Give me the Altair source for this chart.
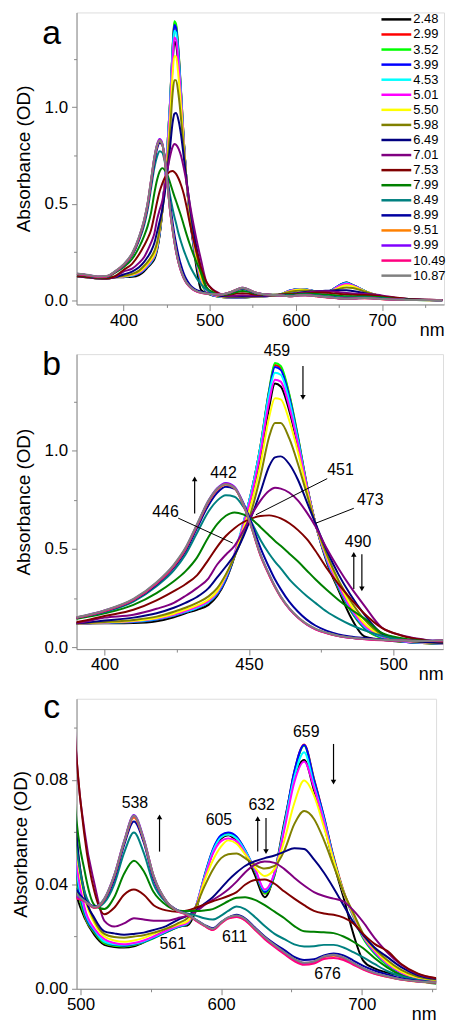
import json
import altair as alt
import pandas as pd

# ---------------- data ----------------
WAVELENGTH = [346, 360, 370, 380, 390, 400, 410, 418, 424, 428, 432, 436, 439, 442, 445,
              448, 451, 454, 457, 459, 461, 464, 467, 470, 473, 477, 481, 485, 490, 496,
              503, 510, 517, 524, 531, 538, 545, 552, 561, 569, 576, 582, 588, 594, 600,
              605, 611, 617, 624, 631, 638, 645, 652, 659, 666, 673, 680, 687, 694, 701,
              709, 718, 728, 740, 755, 770]

PH_LABELS = ["2.48", "2.99", "3.52", "3.99", "4.53", "5.01", "5.50", "5.98", "6.49",
             "7.01", "7.53", "7.99", "8.49", "8.99", "9.51", "9.99", "10.49", "10.87"]
COLORS = ["#000000", "#FF0000", "#00FF00", "#0000FF", "#00FFFF", "#FF00FF", "#FFFF00",
          "#808000", "#000080", "#800080", "#800000", "#008000", "#008080", "#0000A0",
          "#FF8000", "#8000FF", "#FF0080", "#808080"]

# Soret part (346-496 nm) and Q-band part (503-770 nm) of each spectrum
S_248 = [0.125, 0.119, 0.114, 0.112, 0.120, 0.121, 0.123, 0.132, 0.152, 0.172, 0.190, 0.215, 0.260, 0.340, 0.460,
         0.615, 0.770, 0.970, 1.220, 1.340, 1.325, 1.200, 1.020, 0.820, 0.630, 0.430, 0.290, 0.160, 0.055, 0.038]
Q_248 = [0.0270, 0.0205, 0.0168, 0.0160, 0.0158, 0.0163, 0.0178, 0.0198, 0.0225, 0.0238, 0.0242, 0.0300,
         0.0420, 0.0520, 0.0575, 0.0588, 0.0565, 0.0520, 0.0435, 0.0350, 0.0445, 0.0640, 0.0810, 0.0876,
         0.0760, 0.0630, 0.0480, 0.0350, 0.0210, 0.0108, 0.0078, 0.0062, 0.0050, 0.0038, 0.0030, 0.0028]
S_299 = [0.128, 0.121, 0.116, 0.114, 0.121, 0.124, 0.128, 0.140, 0.160, 0.178, 0.198, 0.228, 0.270, 0.345, 0.465,
         0.625, 0.800, 1.025, 1.305, 1.435, 1.420, 1.280, 1.065, 0.830, 0.630, 0.440, 0.300, 0.190, 0.095, 0.047]
Q_299 = [0.0280, 0.0215, 0.0175, 0.0166, 0.0163, 0.0168, 0.0180, 0.0197, 0.0217, 0.0236, 0.0248, 0.0310,
         0.0425, 0.0525, 0.0580, 0.0590, 0.0575, 0.0525, 0.0450, 0.0365, 0.0435, 0.0625, 0.0830, 0.0935,
         0.0805, 0.0660, 0.0505, 0.0375, 0.0280, 0.0198, 0.0140, 0.0095, 0.0060, 0.0040, 0.0030, 0.0028]
S_352 = [0.128, 0.121, 0.116, 0.114, 0.121, 0.124, 0.128, 0.140, 0.160, 0.178, 0.198, 0.228, 0.270, 0.345, 0.465,
         0.625, 0.800, 1.025, 1.310, 1.445, 1.430, 1.285, 1.070, 0.830, 0.630, 0.440, 0.300, 0.190, 0.095, 0.046]
Q_352 = [0.0280, 0.0215, 0.0175, 0.0165, 0.0162, 0.0167, 0.0178, 0.0193, 0.0216, 0.0235, 0.0248, 0.0310,
         0.0428, 0.0530, 0.0585, 0.0595, 0.0580, 0.0530, 0.0452, 0.0365, 0.0435, 0.0625, 0.0828, 0.0930,
         0.0800, 0.0655, 0.0500, 0.0370, 0.0275, 0.0192, 0.0135, 0.0090, 0.0058, 0.0038, 0.0025, 0.0022]
S_399 = [0.128, 0.121, 0.116, 0.114, 0.121, 0.124, 0.128, 0.140, 0.160, 0.178, 0.198, 0.228, 0.270, 0.345, 0.465,
         0.625, 0.800, 1.020, 1.300, 1.425, 1.410, 1.270, 1.060, 0.825, 0.630, 0.440, 0.305, 0.195, 0.100, 0.050]
Q_399 = [0.0290, 0.0220, 0.0180, 0.0168, 0.0165, 0.0170, 0.0180, 0.0195, 0.0218, 0.0236, 0.0249, 0.0315,
         0.0430, 0.0532, 0.0588, 0.0598, 0.0582, 0.0532, 0.0455, 0.0370, 0.0440, 0.0630, 0.0832, 0.0933,
         0.0800, 0.0660, 0.0500, 0.0370, 0.0280, 0.0198, 0.0140, 0.0095, 0.0060, 0.0040, 0.0030, 0.0027]
S_453 = [0.127, 0.120, 0.115, 0.114, 0.120, 0.125, 0.130, 0.143, 0.162, 0.180, 0.200, 0.230, 0.275, 0.355, 0.475,
         0.632, 0.800, 1.020, 1.290, 1.395, 1.385, 1.250, 1.050, 0.820, 0.630, 0.445, 0.310, 0.200, 0.105, 0.052]
Q_453 = [0.0300, 0.0225, 0.0180, 0.0170, 0.0168, 0.0172, 0.0182, 0.0198, 0.0220, 0.0238, 0.0250, 0.0315,
         0.0425, 0.0525, 0.0580, 0.0590, 0.0575, 0.0528, 0.0458, 0.0377, 0.0445, 0.0625, 0.0810, 0.0905,
         0.0780, 0.0650, 0.0495, 0.0370, 0.0280, 0.0200, 0.0142, 0.0096, 0.0062, 0.0041, 0.0030, 0.0028]
S_501 = [0.127, 0.120, 0.115, 0.114, 0.120, 0.125, 0.132, 0.145, 0.165, 0.184, 0.205, 0.235, 0.280, 0.360, 0.475,
         0.620, 0.780, 0.990, 1.250, 1.360, 1.350, 1.220, 1.030, 0.820, 0.630, 0.450, 0.315, 0.205, 0.110, 0.055]
Q_501 = [0.0310, 0.0230, 0.0190, 0.0175, 0.0170, 0.0175, 0.0185, 0.0200, 0.0222, 0.0240, 0.0252, 0.0315,
         0.0420, 0.0515, 0.0565, 0.0575, 0.0565, 0.0520, 0.0460, 0.0380, 0.0445, 0.0610, 0.0790, 0.0870,
         0.0770, 0.0640, 0.0490, 0.0368, 0.0280, 0.0200, 0.0143, 0.0097, 0.0062, 0.0041, 0.0030, 0.0028]
S_550 = [0.126, 0.120, 0.115, 0.114, 0.120, 0.126, 0.134, 0.148, 0.170, 0.190, 0.212, 0.242, 0.285, 0.365, 0.465,
         0.600, 0.740, 0.930, 1.170, 1.265, 1.260, 1.150, 0.990, 0.800, 0.630, 0.460, 0.330, 0.220, 0.120, 0.060]
Q_550 = [0.0350, 0.0250, 0.0200, 0.0185, 0.0180, 0.0185, 0.0195, 0.0210, 0.0230, 0.0245, 0.0258, 0.0310,
         0.0410, 0.0490, 0.0545, 0.0568, 0.0555, 0.0515, 0.0465, 0.0432, 0.0460, 0.0570, 0.0710, 0.0797,
         0.0740, 0.0620, 0.0490, 0.0370, 0.0285, 0.0205, 0.0150, 0.0102, 0.0066, 0.0043, 0.0032, 0.0029]
S_598 = [0.126, 0.120, 0.115, 0.114, 0.120, 0.128, 0.138, 0.155, 0.180, 0.200, 0.225, 0.258, 0.300, 0.370, 0.460,
         0.570, 0.700, 0.870, 1.070, 1.140, 1.140, 1.060, 0.930, 0.780, 0.630, 0.470, 0.340, 0.240, 0.140, 0.065]
Q_598 = [0.0370, 0.0260, 0.0210, 0.0198, 0.0195, 0.0200, 0.0205, 0.0215, 0.0230, 0.0250, 0.0270, 0.0315,
         0.0390, 0.0455, 0.0500, 0.0515, 0.0518, 0.0500, 0.0475, 0.0460, 0.0470, 0.0530, 0.0630, 0.0680,
         0.0650, 0.0570, 0.0470, 0.0370, 0.0290, 0.0210, 0.0155, 0.0110, 0.0072, 0.0046, 0.0034, 0.0030]
S_649 = [0.126, 0.120, 0.115, 0.114, 0.120, 0.135, 0.150, 0.172, 0.200, 0.225, 0.255, 0.300, 0.355, 0.410, 0.470,
         0.560, 0.670, 0.790, 0.920, 0.965, 0.970, 0.930, 0.850, 0.740, 0.630, 0.490, 0.370, 0.270, 0.165, 0.070]
Q_649 = [0.0360, 0.0270, 0.0220, 0.0212, 0.0207, 0.0210, 0.0215, 0.0225, 0.0240, 0.0263, 0.0280, 0.0300,
         0.0325, 0.0350, 0.0385, 0.0415, 0.0445, 0.0470, 0.0488, 0.0500, 0.0510, 0.0525, 0.0538, 0.0535,
         0.0495, 0.0445, 0.0385, 0.0320, 0.0255, 0.0205, 0.0158, 0.0122, 0.0083, 0.0052, 0.0036, 0.0031]
S_701 = [0.127, 0.121, 0.116, 0.115, 0.122, 0.150, 0.165, 0.195, 0.225, 0.260, 0.300, 0.350, 0.420, 0.470, 0.515,
         0.590, 0.675, 0.745, 0.795, 0.810, 0.806, 0.785, 0.745, 0.685, 0.615, 0.500, 0.400, 0.310, 0.210, 0.100]
Q_701 = [0.0600, 0.0400, 0.0260, 0.0238, 0.0250, 0.0270, 0.0265, 0.0260, 0.0260, 0.0270, 0.0280, 0.0295,
         0.0320, 0.0340, 0.0360, 0.0380, 0.0410, 0.0445, 0.0475, 0.0487, 0.0482, 0.0458, 0.0425, 0.0395,
         0.0370, 0.0355, 0.0345, 0.0334, 0.0300, 0.0255, 0.0195, 0.0140, 0.0092, 0.0056, 0.0038, 0.0032]
S_753 = [0.128, 0.122, 0.117, 0.116, 0.126, 0.158, 0.190, 0.238, 0.285, 0.320, 0.365, 0.445, 0.510, 0.565, 0.605,
         0.635, 0.655, 0.667, 0.670, 0.665, 0.655, 0.630, 0.595, 0.550, 0.490, 0.400, 0.320, 0.250, 0.170, 0.098]
Q_753 = [0.0580, 0.0370, 0.0285, 0.0310, 0.0360, 0.0380, 0.0360, 0.0320, 0.0300, 0.0295, 0.0300, 0.0310,
         0.0322, 0.0335, 0.0345, 0.0355, 0.0370, 0.0398, 0.0416, 0.0418, 0.0402, 0.0372, 0.0345, 0.0320,
         0.0298, 0.0288, 0.0283, 0.0272, 0.0250, 0.0210, 0.0172, 0.0145, 0.0095, 0.0058, 0.0039, 0.0033]
S_799 = [0.133, 0.126, 0.120, 0.120, 0.143, 0.172, 0.215, 0.275, 0.335, 0.385, 0.455, 0.560, 0.625, 0.668, 0.685,
         0.675, 0.650, 0.610, 0.568, 0.540, 0.515, 0.475, 0.435, 0.390, 0.345, 0.290, 0.240, 0.195, 0.145, 0.072]
Q_799 = [0.0450, 0.0320, 0.0305, 0.0350, 0.0440, 0.0490, 0.0450, 0.0370, 0.0320, 0.0300, 0.0298, 0.0298,
         0.0300, 0.0305, 0.0320, 0.0335, 0.0348, 0.0350, 0.0340, 0.0320, 0.0295, 0.0270, 0.0240, 0.0220,
         0.0218, 0.0216, 0.0213, 0.0200, 0.0180, 0.0155, 0.0118, 0.0082, 0.0052, 0.0032, 0.0019, 0.0017]
S_849 = [0.136, 0.128, 0.121, 0.122, 0.148, 0.178, 0.232, 0.310, 0.390, 0.470, 0.580, 0.690, 0.745, 0.772, 0.765,
         0.715, 0.632, 0.545, 0.475, 0.435, 0.400, 0.345, 0.300, 0.260, 0.225, 0.180, 0.145, 0.115, 0.085, 0.058]
Q_849 = [0.0370, 0.0310, 0.0330, 0.0400, 0.0520, 0.0598, 0.0520, 0.0400, 0.0330, 0.0300, 0.0288, 0.0280,
         0.0270, 0.0265, 0.0280, 0.0298, 0.0315, 0.0305, 0.0275, 0.0240, 0.0210, 0.0190, 0.0170, 0.0162,
         0.0163, 0.0168, 0.0168, 0.0158, 0.0140, 0.0120, 0.0095, 0.0068, 0.0048, 0.0034, 0.0025, 0.0022]
S_899 = [0.137, 0.129, 0.122, 0.124, 0.148, 0.182, 0.238, 0.318, 0.405, 0.488, 0.605, 0.722, 0.785, 0.815, 0.805,
         0.735, 0.625, 0.505, 0.405, 0.345, 0.295, 0.230, 0.180, 0.140, 0.110, 0.083, 0.065, 0.054, 0.046, 0.039]
Q_899 = [0.0340, 0.0315, 0.0340, 0.0420, 0.0550, 0.0640, 0.0560, 0.0420, 0.0335, 0.0300, 0.0285, 0.0265,
         0.0245, 0.0232, 0.0255, 0.0272, 0.0283, 0.0270, 0.0235, 0.0200, 0.0172, 0.0148, 0.0122, 0.0110,
         0.0113, 0.0128, 0.0135, 0.0128, 0.0108, 0.0088, 0.0070, 0.0055, 0.0040, 0.0030, 0.0024, 0.0021]
S_951 = [0.138, 0.130, 0.123, 0.125, 0.149, 0.184, 0.240, 0.323, 0.412, 0.497, 0.617, 0.738, 0.800, 0.826, 0.808,
         0.726, 0.603, 0.468, 0.367, 0.307, 0.256, 0.196, 0.151, 0.117, 0.093, 0.072, 0.057, 0.048, 0.041, 0.036]
Q_951 = [0.0335, 0.0310, 0.0342, 0.0430, 0.0560, 0.0655, 0.0570, 0.0430, 0.0335, 0.0298, 0.0283, 0.0262,
         0.0242, 0.0226, 0.0252, 0.0270, 0.0276, 0.0263, 0.0228, 0.0193, 0.0163, 0.0136, 0.0110, 0.0096,
         0.0101, 0.0120, 0.0126, 0.0116, 0.0096, 0.0075, 0.0058, 0.0046, 0.0035, 0.0027, 0.0023, 0.0021]
S_999 = [0.139, 0.131, 0.124, 0.126, 0.150, 0.186, 0.243, 0.327, 0.417, 0.502, 0.622, 0.745, 0.808, 0.835, 0.815,
         0.732, 0.607, 0.470, 0.368, 0.308, 0.256, 0.195, 0.150, 0.116, 0.092, 0.071, 0.057, 0.048, 0.041, 0.036]
Q_999 = [0.0335, 0.0312, 0.0345, 0.0435, 0.0565, 0.0665, 0.0575, 0.0432, 0.0336, 0.0299, 0.0284, 0.0263,
         0.0243, 0.0228, 0.0253, 0.0272, 0.0279, 0.0266, 0.0231, 0.0196, 0.0166, 0.0139, 0.0113, 0.0099,
         0.0104, 0.0123, 0.0129, 0.0119, 0.0099, 0.0078, 0.0061, 0.0048, 0.0036, 0.0028, 0.0024, 0.0022]
S_1049 = [0.138, 0.130, 0.123, 0.125, 0.149, 0.185, 0.241, 0.325, 0.415, 0.500, 0.620, 0.742, 0.803, 0.830, 0.810,
          0.726, 0.602, 0.465, 0.365, 0.305, 0.254, 0.194, 0.149, 0.115, 0.091, 0.070, 0.056, 0.047, 0.040, 0.035]
Q_1049 = [0.0335, 0.0310, 0.0343, 0.0432, 0.0562, 0.0660, 0.0570, 0.0430, 0.0334, 0.0297, 0.0282, 0.0261,
          0.0241, 0.0225, 0.0250, 0.0269, 0.0275, 0.0262, 0.0226, 0.0190, 0.0160, 0.0132, 0.0106, 0.0092,
          0.0097, 0.0114, 0.0118, 0.0110, 0.0092, 0.0073, 0.0057, 0.0046, 0.0035, 0.0028, 0.0025, 0.0024]
S_1087 = [0.140, 0.132, 0.125, 0.127, 0.151, 0.187, 0.245, 0.330, 0.420, 0.505, 0.625, 0.745, 0.805, 0.828, 0.810,
          0.728, 0.605, 0.470, 0.370, 0.310, 0.258, 0.197, 0.152, 0.118, 0.094, 0.073, 0.058, 0.049, 0.042, 0.037]
Q_1087 = [0.0336, 0.0313, 0.0345, 0.0434, 0.0563, 0.0662, 0.0572, 0.0432, 0.0336, 0.0299, 0.0285, 0.0264,
          0.0244, 0.0229, 0.0254, 0.0273, 0.0280, 0.0267, 0.0232, 0.0197, 0.0167, 0.0140, 0.0114, 0.0100,
          0.0105, 0.0124, 0.0130, 0.0120, 0.0099, 0.0078, 0.0061, 0.0048, 0.0036, 0.0028, 0.0024, 0.0022]

SPECTRA = [S_248 + Q_248, S_299 + Q_299, S_352 + Q_352, S_399 + Q_399, S_453 + Q_453,
           S_501 + Q_501, S_550 + Q_550, S_598 + Q_598, S_649 + Q_649, S_701 + Q_701,
           S_753 + Q_753, S_799 + Q_799, S_849 + Q_849, S_899 + Q_899, S_951 + Q_951,
           S_999 + Q_999, S_1049 + Q_1049, S_1087 + Q_1087]

# annotations of panel b (wavelength, absorbance)
B_TEXT = ["459", "442", "446", "451", "473", "490"]
B_TEXT_NM = [459.7, 441.2, 421.1, 481.7, 492.0, 487.8]
B_TEXT_A = [1.505, 0.883, 0.686, 0.903, 0.748, 0.533]
B_LEAD_NM1 = [425.5, 477.1, 486.3]
B_LEAD_A1 = [0.656, 0.857, 0.706]
B_LEAD_NM2 = [444.4, 452.4, 473.1]
B_LEAD_A2 = [0.529, 0.673, 0.630]
B_ARROW_NM = [468.7, 431.2, 486.3, 489.1]
B_ARROW_FROM = [1.43, 0.679, 0.296, 0.472]
B_ARROW_TO = [1.27, 0.856, 0.472, 0.296]

# annotations of panel c
C_TEXT = ["538", "605", "632", "659", "561", "611", "676"]
C_TEXT_NM = [538.7, 598.4, 628.8, 660.5, 565.6, 609.6, 675.7]
C_TEXT_A = [0.0709, 0.0645, 0.0702, 0.0982, 0.0171, 0.0197, 0.0057]
C_ARROW_NM = [556.2, 626.0, 631.9, 679.9]
C_ARROW_FROM = [0.0525, 0.0525, 0.0654, 0.0937]
C_ARROW_TO = [0.0658, 0.0651, 0.0525, 0.0791]

FONT = "Liberation Sans"

# ---------------- tables ----------------
rows = []
for k, (lab, vals) in enumerate(zip(PH_LABELS, SPECTRA)):
    for w, a in zip(WAVELENGTH, vals):
        rows.append({"pH": lab, "k": k, "nm": w, "A": a})
spec_df = pd.DataFrame(rows)

legend_df = pd.DataFrame({"pH": PH_LABELS, "idx": list(range(len(PH_LABELS)))})

color_scale = alt.Scale(domain=PH_LABELS, range=COLORS)


def x_axis(major, minor, width):
    test = "indexof(%s, datum.value) >= 0" % json.dumps(major)
    return alt.Axis(values=sorted(major + minor),
                    labelExpr=f"({test}) ? format(datum.value, 'd') : ''",
                    tickSize={"condition": {"test": test, "value": 6}, "value": 3},
                    labelFontSize=17, labelPadding=2, labelFlush=False, labelOverlap=False,
                    labelFontWeight="normal",
                    title="nm", titleFontSize=18, titleFontWeight="normal",
                    titleX=width, titleY=17,
                    titleAlign="right", titleBaseline="top", titleAnchor="end", grid=False)


def y_axis(major, minor, fmt, tpad):
    test = "indexof(%s, datum.value) >= 0" % json.dumps(major)
    return alt.Axis(values=sorted(major + minor),
                    labelExpr=f"({test}) ? format(datum.value, '{fmt}') : ''",
                    tickSize={"condition": {"test": test, "value": 5}, "value": 3},
                    labelFontSize=17, labelPadding=4, labelFlush=False, labelOverlap=False,
                    labelFontWeight="normal",
                    title="Absorbance (OD)", titleFontSize=19, titleFontWeight="normal",
                    titlePadding=tpad, grid=False)


def panel(letter, letter_y, xdom, ydom, w, h, xmaj, xmin, ymaj, ymin, yfmt, tpad):
    xs = alt.Scale(domain=xdom, nice=False, zero=False)
    ys = alt.Scale(domain=ydom, nice=False, zero=False)
    xa = x_axis(xmaj, xmin, w)
    ya = y_axis(ymaj, ymin, yfmt, tpad)

    lines = alt.Chart(spec_df).mark_line(clip=True, strokeWidth=2, interpolate="monotone").encode(
        x=alt.X("nm:Q", scale=xs, axis=xa),
        y=alt.Y("A:Q", scale=ys, axis=ya),
        color=alt.Color("pH:N", scale=color_scale, legend=None),
        detail="k:Q",
    )
    label = alt.Chart(pd.DataFrame({"t": [letter]})).mark_text(
        font=FONT, fontSize=34, align="center", baseline="alphabetic", color="black"
    ).encode(text="t:N", x=alt.value(-25), y=alt.value(letter_y))
    return lines, label, xs, ys, xa, ya


def annotations(xs, ys, xa, ya, tnm, ta, tt, anm, afrom, ato, lead=None):
    layers = []
    tdf = pd.DataFrame({"nm": tnm, "A": ta, "t": tt})
    layers.append(alt.Chart(tdf).mark_text(font=FONT, fontSize=16, color="black",
                                           align="center", baseline="middle").encode(
        x=alt.X("nm:Q", scale=xs, axis=xa), y=alt.Y("A:Q", scale=ys, axis=ya), text="t:N"))
    if lead is not None:
        ldf = pd.DataFrame({"x1": lead[0], "y1": lead[1], "x2": lead[2], "y2": lead[3]})
        layers.append(alt.Chart(ldf).mark_rule(color="black", strokeWidth=1).encode(
            x=alt.X("x1:Q", scale=xs, axis=xa), y=alt.Y("y1:Q", scale=ys, axis=ya),
            x2="x2:Q", y2="y2:Q"))
    adf = pd.DataFrame({"nm": anm, "y1": afrom, "y2": ato,
                        "dir": ["up" if b > a else "down" for a, b in zip(afrom, ato)]})
    layers.append(alt.Chart(adf).mark_rule(color="black", strokeWidth=1.2).encode(
        x=alt.X("nm:Q", scale=xs, axis=xa), y=alt.Y("y1:Q", scale=ys, axis=ya), y2="y2:Q"))
    layers.append(alt.Chart(adf).mark_point(filled=True, size=30, color="black", opacity=1).encode(
        x=alt.X("nm:Q", scale=xs, axis=xa), y=alt.Y("y2:Q", scale=ys, axis=ya),
        shape=alt.Shape("dir:N", scale=alt.Scale(domain=["up", "down"],
                                                 range=["triangle-up", "triangle-down"]),
                        legend=None)))
    return layers


# ---------------- panel a ----------------
la, ta, xsa, ysa, xaa, yaa = panel("a", 32, [345.5, 772], [-0.02, 1.49], 370, 294,
                                   [400, 500, 600, 700], [450, 550, 650, 750],
                                   [0, 0.5, 1.0], [0.25, 0.75, 1.25], ".1f", 11)
leg_y = alt.Y("idx:Q", scale=alt.Scale(domain=[0, 17], range=[7, 265]), axis=None)
leg_lines = alt.Chart(legend_df).mark_rule(strokeWidth=2.5).encode(
    x=alt.value(307), x2=alt.value(337), y=leg_y,
    color=alt.Color("pH:N", scale=color_scale, legend=None))
leg_text = alt.Chart(legend_df).mark_text(font=FONT, fontSize=13, align="left",
                                          baseline="middle", color="black").encode(
    x=alt.value(339), y=leg_y, text="pH:N")
pa = alt.layer(la, ta, leg_lines, leg_text).resolve_scale(y="independent").properties(
    width=370, height=294)

# ---------------- panel b ----------------
lb, tb, xsb, ysb, xab, yab = panel("b", 21, [390.3, 517.2], [-0.01, 1.49], 369, 297,
                                   [400, 450, 500], [425, 475],
                                   [0, 0.5, 1.0], [0.25, 0.75, 1.25], ".1f", 11)
ann_b = annotations(xsb, ysb, xab, yab, B_TEXT_NM, B_TEXT_A, B_TEXT,
                    B_ARROW_NM, B_ARROW_FROM, B_ARROW_TO,
                    lead=(B_LEAD_NM1, B_LEAD_A1, B_LEAD_NM2, B_LEAD_A2))
pb = alt.layer(lb, tb, *ann_b).properties(width=369, height=297)

# ---------------- panel c ----------------
lc, tc, xsc, ysc, xac, yac = panel("c", 19, [497.2, 752.8], [0, 0.111], 362, 292,
                                   [500, 600, 700], [550, 650, 750],
                                   [0, 0.04, 0.08], [0.02, 0.06, 0.10], ".2f", 4)
ann_c = annotations(xsc, ysc, xac, yac, C_TEXT_NM, C_TEXT_A, C_TEXT,
                    C_ARROW_NM, C_ARROW_FROM, C_ARROW_TO)
pc = alt.layer(lc, tc, *ann_c).properties(width=362, height=292)

chart = alt.vconcat(pa, pb, pc, spacing=50, bounds="flush").properties(
    padding={"left": 3, "top": 0, "right": 0, "bottom": -2}
).configure_view(stroke=None).configure_axis(
    domainColor="#333333", domainWidth=1.6, tickColor="#333333", tickWidth=1.4,
    labelFont=FONT, titleFont=FONT, labelColor="black", titleColor="black",
    titleFontWeight="normal"
).configure(background="white")

chart.save("out.html", embed_options={"renderer": "svg", "actions": False})
